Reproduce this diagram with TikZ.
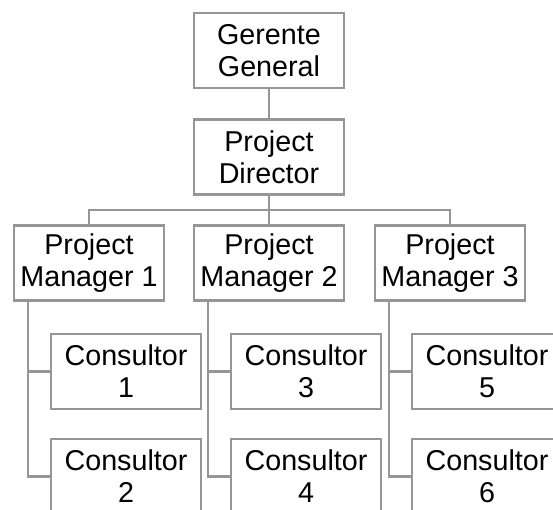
\documentclass[tikz,border=0pt]{standalone}
\usepackage{fontspec}
\setmainfont{Liberation Sans}
\usetikzlibrary{positioning, calc}
\definecolor{boxgray}{RGB}{150, 150, 150}

\tikzset{
    orgbox/.style={draw=boxgray, line width=1.1pt, fill=white, minimum width=75pt, minimum height=37.5pt,
        align=center, inner sep=0pt, font=\fontsize{14.35pt}{16pt}\selectfont},
    orgline/.style={draw=boxgray, line width=1.1pt}
}

\begin{document}
\begin{tikzpicture}[x=0.5pt, y=0.5pt]
        \useasboundingbox (0,0) rectangle (553,510);
        \clip (0,0) rectangle (553,510);

        % Top level
        \node[orgbox] (gg) at (269, 459.5) {Gerente\\General};
        \node[orgbox] (pd) at (269, 353) {Project\\Director};
        \draw[orgline] (gg.south) -- (pd.north);

        % Project managers
        \node[orgbox] (pm1) at (89, 247) {Project\\Manager 1};
        \node[orgbox] (pm2) at (269, 247) {Project\\Manager 2};
        \node[orgbox] (pm3) at (450, 247) {Project\\Manager 3};
        \coordinate (bus) at ($(pd.south)!0.5!(pm2.north)$);
        \draw[orgline] (pd.south) -- (pm2.north);
        \draw[orgline] (bus) -| (pm1.north);
        \draw[orgline] (bus) -| (pm3.north);

        % Consultores
        \foreach \m/\a/\b in {1/1/2, 2/3/4, 3/5/6} {
            \node[orgbox, anchor=west] (c\a) at ($(pm\m.south west)+(37,-70)$) {Consultor\\\a};
            \node[orgbox, anchor=west] (c\b) at ($(pm\m.south west)+(37,-175)$) {Consultor\\\b};
            \coordinate (drop\m) at ($(pm\m.south west)+(15,0)$);
            \draw[orgline] (drop\m) |- (c\a.west);
            \draw[orgline] (drop\m) |- (c\b.west);
        }
    \end{tikzpicture}
\end{document}
